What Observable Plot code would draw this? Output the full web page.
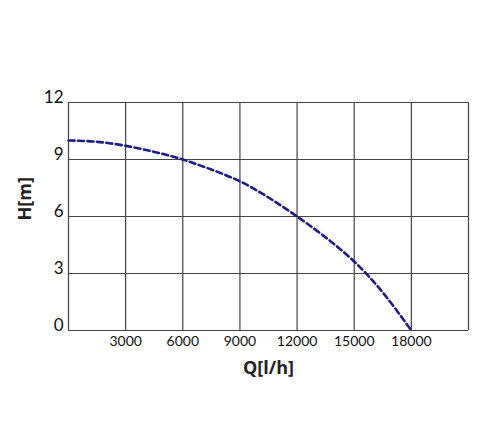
<!DOCTYPE html>
<html><head><meta charset="utf-8">
<script src="https://cdn.jsdelivr.net/npm/d3@7"></script>
<script src="https://cdn.jsdelivr.net/npm/@observablehq/plot@0.6"></script>
<style>body{margin:0;background:#fff;}</style>
</head><body><div id="chart"></div>
<script>
const flowQ = [0,1500,3000,4500,6000,7500,9000,10500,12000,13500,15000,16500,18000];
const headH = [10,9.93,9.72,9.4,9.0,8.47,7.85,7.0,6.0,4.9,3.63,2.0,0];
const xTicks = [3000,6000,9000,12000,15000,18000];
const xGrid = [0,3000,6000,9000,12000,15000,18000,21000];
const yTicks = [0,3,6,9,12];
const curve = flowQ.map((q,i)=>({q, h: headH[i]}));
const gridCol = "#444";
const chart = Plot.plot({
  width: 500, height: 437,
  marginLeft: 68, marginRight: 32, marginTop: 102, marginBottom: 107,
  style: {fontFamily: "Lato, sans-serif", color: "#111", background: "#fff"},
  x: {domain: [0,21000], ticks: xTicks, tickSize: 0, tickPadding: 6, tickFormat: d=>String(d), label: null},
  y: {domain: [0,12], ticks: yTicks, tickSize: 0, tickPadding: 5, label: null},
  marks: [
    Plot.ruleX(xGrid, {stroke: gridCol, strokeWidth: 1.2}),
    Plot.ruleY(yTicks, {stroke: gridCol, strokeWidth: 1.2}),
    Plot.axisX({ticks: xTicks, tickSize: 0, tickPadding: 6, fontSize: 14, fill: "#111", stroke: "#111", strokeWidth: 0.25, tickFormat: d=>String(d), label: null}),
    Plot.axisY({ticks: yTicks, tickSize: 0, tickPadding: 5, fontSize: 17, fill: "#111", stroke: "#111", strokeWidth: 0.25, dy: -5, label: null}),
    Plot.line(curve, {x: "q", y: "h", curve: "natural", stroke: "#1c1c8a", strokeWidth: 2.6, strokeDasharray: "6,3.5"}),
    Plot.text(["H[m]"], {frameAnchor: "left", dx: -43, dy: 4, rotate: -90, fontSize: 18, fontWeight: "bold", fontFamily: "Open Sans, sans-serif", fill: "#222"}),
    Plot.text(["Q[l/h]"], {frameAnchor: "bottom", dy: 43, fontSize: 18, fontWeight: "bold", fontFamily: "Open Sans, sans-serif", fill: "#222"})
  ]
});
document.getElementById("chart").appendChild(chart);
</script></body></html>
